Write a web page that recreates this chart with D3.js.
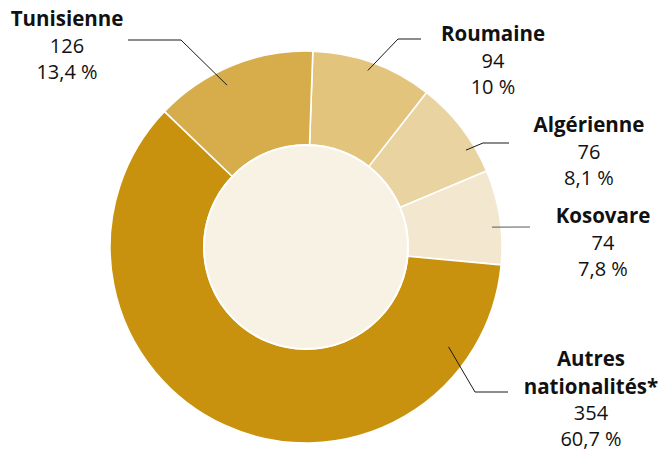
<!DOCTYPE html>
<html>
<head>
<meta charset="utf-8">
<script src="https://cdn.jsdelivr.net/npm/d3@7"></script>
<style>
  html, body { margin: 0; padding: 0; background: #fff; }
  svg { display: block; }
  text { font-family: "Open Sans", "Noto Sans", sans-serif; fill: #111; }
  .name { font-weight: 700; font-size: 20.5px; }
  .num { font-size: 20px; }
</style>
</head>
<body>
<svg id="chart" width="663" height="452"></svg>
<script>
// Nationalities, head counts and shares (share drives the slice size)
const nationalities = ["Roumaine", "Algérienne", "Kosovare", "Autres nationalités*", "Tunisienne"];
const counts = [94, 76, 74, 354, 126];
const shares = [10, 8.1, 7.8, 60.7, 13.4];
const shareLabels = ["10 %", "8,1 %", "7,8 %", "60,7 %", "13,4 %"];

const colors = ["#e2c47d", "#e9d4a1", "#f3e7cf", "#c8920e", "#d7ad4b"];

const cx = 306, cy = 247;
const outerR = 196, innerR = 102;
const rotation = 2 * Math.PI / 180;

const svg = d3.select("#chart");
const g = svg.append("g").attr("transform", `translate(${cx},${cy})`);

const pie = d3.pie()
  .value(d => d.share)
  .sort(null)
  .startAngle(rotation)
  .endAngle(rotation + 2 * Math.PI);

const data = nationalities.map((n, i) => ({ name: n, count: counts[i], share: shares[i], label: shareLabels[i], color: colors[i] }));
const arcs = pie(data);

const arc = d3.arc().innerRadius(innerR).outerRadius(outerR);

g.selectAll("path.slice")
  .data(arcs)
  .join("path")
  .attr("class", "slice")
  .attr("d", arc)
  .attr("fill", d => d.data.color)
  .attr("stroke", "#fff")
  .attr("stroke-width", 1.6)
  .attr("stroke-linejoin", "round");

// Centre disc
g.append("circle")
  .attr("r", innerR)
  .attr("fill", "#f8f2e5")
  .attr("stroke", "#fff")
  .attr("stroke-width", 2);

// Label layout: leader start (angle in degrees, radius), elbow and end points, text anchor, line gaps
const layout = [
  { a: 19.3, r: 187, elbow: [398, 39], end: [421, 39], tx: 493, ty: 41, gap: 26.5 },
  { a: 58.8, r: 187, elbow: [483, 143], end: [509, 143], tx: 589, ty: 132, gap: 26.5 },
  { a: 83.9, r: 187, elbow: null, end: [530, 227], tx: 603, ty: 223, gap: 26.5 },
  { a: 125, r: 174, elbow: [475, 392], end: [508, 392], tx: 591, ty: 366, gap: 26 },
  { a: 334, r: 180, elbow: [181, 40], end: [128, 40], tx: 67, ty: 26, gap: 26.5 }
];

const nameGap = 27.5;

arcs.forEach((d, i) => {
  const L = layout[i];
  const p0 = d3.pointRadial(L.a * Math.PI / 180, L.r);
  const pts = [[cx + p0[0], cy + p0[1]]];
  if (L.elbow) pts.push(L.elbow);
  pts.push(L.end);
  svg.append("path")
    .attr("d", d3.line()(pts))
    .attr("fill", "none")
    .attr("stroke", i === 2 ? "#5a5a5a" : "#1a1a1a")
    .attr("stroke-width", 1);

  const t = svg.append("text").attr("text-anchor", "middle");
  const nameLines = d.data.name === "Autres nationalités*" ? ["Autres", "nationalités*"] : [d.data.name];
  nameLines.forEach((nl, k) => {
    t.append("tspan").attr("class", "name").attr("x", L.tx).attr("y", L.ty + k * nameGap).text(nl);
  });
  const base = L.ty + (nameLines.length - 1) * nameGap;
  t.append("tspan").attr("class", "num").attr("x", L.tx).attr("y", base + L.gap).text(d.data.count);
  t.append("tspan").attr("class", "num").attr("x", L.tx).attr("y", base + 2 * L.gap).text(d.data.label);
});
</script>
</body>
</html>
